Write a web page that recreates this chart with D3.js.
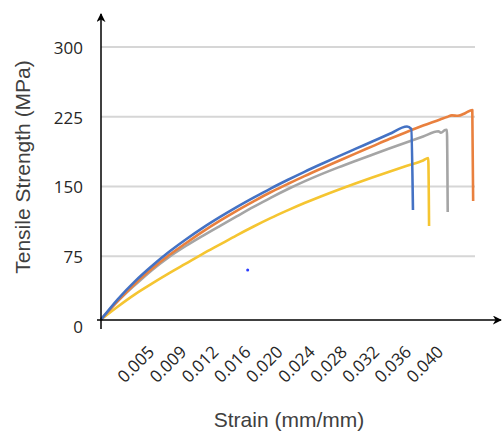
<!DOCTYPE html>
<html>
<head>
<meta charset="utf-8">
<script src="https://cdn.jsdelivr.net/npm/d3@7"></script>
<style>
  body { margin: 0; background: #fff; }
  svg { display: block; }
</style>
</head>
<body>
<svg id="drawing_region"></svg>
<script>
// strain (mm/mm) and tensile strength (MPa) for the four specimens
const blueStrain   = [0, 0.002, 0.004, 0.006, 0.008, 0.010, 0.012, 0.014, 0.016, 0.018, 0.020, 0.022, 0.024, 0.026, 0.028, 0.030, 0.032, 0.034, 0.0361, 0.0366, 0.0368];
const blueStress   = [7, 29, 48, 64.5, 79.5, 93, 105.5, 117, 127.8, 138, 147.8, 157, 165.8, 174.2, 182.4, 190.4, 198.4, 206.4, 214.5, 212, 124.7];

const orangeStrain = [0, 0.002, 0.004, 0.006, 0.008, 0.010, 0.012, 0.014, 0.016, 0.018, 0.020, 0.022, 0.024, 0.026, 0.028, 0.030, 0.032, 0.034, 0.036, 0.038, 0.040, 0.0408, 0.0414, 0.0421, 0.0430, 0.0438, 0.0439];
const orangeStress = [7, 27, 45.5, 61.5, 76, 89, 101.5, 113, 123.8, 134, 143.8, 152.6, 161.2, 169.4, 177.4, 185.4, 193.2, 201, 208.4, 215.5, 222, 224.7, 226.5, 226, 229, 232.3, 134.4];

const grayStrain   = [0, 0.002, 0.004, 0.006, 0.008, 0.010, 0.012, 0.014, 0.016, 0.018, 0.020, 0.022, 0.024, 0.026, 0.028, 0.030, 0.032, 0.034, 0.036, 0.038, 0.0398, 0.0401, 0.0406, 0.0408, 0.0409];
const grayStress   = [7, 27, 44, 60, 74, 86, 97, 107.5, 117.8, 128, 137.8, 147, 155.5, 163.3, 170.6, 177.5, 184.2, 190.8, 197.3, 203.7, 209.4, 207.8, 210.8, 211, 122.6];

const yellowStrain = [0, 0.002, 0.004, 0.006, 0.008, 0.010, 0.012, 0.014, 0.016, 0.018, 0.020, 0.022, 0.024, 0.026, 0.028, 0.030, 0.032, 0.034, 0.036, 0.038, 0.0386, 0.0387];
const yellowStress = [7, 21, 34, 45.5, 56.5, 67, 77.5, 87.5, 97.5, 107, 116, 124.3, 132.2, 139.6, 146.6, 153.3, 159.7, 165.9, 172, 178, 180.6, 107.5];

const xTickLabels = ['0.005', '0.009', '0.012', '0.016', '0.020', '0.024', '0.028', '0.032', '0.036', '0.040'];
const yTickValues = [0, 75, 150, 225, 300];

// stray blue dot in the plot area
const strayStrain = [0.0173];
const strayStress = [60.2];

const series = [
    { name: 'yellow', color: '#F5C531', x: yellowStrain, y: yellowStress },
    { name: 'gray',   color: '#A5A5A5', x: grayStrain,   y: grayStress },
    { name: 'orange', color: '#E9803E', x: orangeStrain, y: orangeStress },
    { name: 'blue',   color: '#4472C4', x: blueStrain,   y: blueStress }
];

const config = {
    width: 504,
    height: 432,
    left: 101,
    right: 474,
    zeroY: 326,
    topY: 47
};

const svg = d3.select('#drawing_region')
    .attr('width', config.width)
    .attr('height', config.height);

const xscale = d3.scaleLinear()
    .domain([0, 0.044])
    .range([config.left, config.right]);

const yscale = d3.scaleLinear()
    .domain([0, 300])
    .range([config.zeroY, config.topY]);

const xlabelScale = d3.scalePoint()
    .domain(xTickLabels)
    .range([153, 442]);

const axisY = yscale(0) - 6;   // the drawn x axis sits a little above the 0 label

// gridlines
svg.append('g')
    .selectAll('line')
    .data(yTickValues.filter(d => d > 0))
    .join('line')
    .attr('x1', config.left)
    .attr('x2', 475)
    .attr('y1', d => yscale(d))
    .attr('y2', d => yscale(d))
    .attr('stroke', '#d6d6d6')
    .attr('stroke-width', 2);

// arrow marker
svg.append('defs').append('marker')
    .attr('id', 'arrow')
    .attr('viewBox', '0 0 10 10')
    .attr('refX', 9)
    .attr('refY', 5)
    .attr('markerWidth', 9)
    .attr('markerHeight', 9)
    .attr('markerUnits', 'userSpaceOnUse')
    .attr('orient', 'auto')
    .append('path')
    .attr('d', 'M0,0 L10,5 L0,10 L3,5 Z')
    .attr('fill', '#000');

// y tick labels
const yaxis = d3.axisLeft(yscale)
    .tickValues(yTickValues)
    .tickSize(0)
    .tickPadding(0);

const yaxis_group = svg.append('g')
    .attr('transform', 'translate(83,1)')
    .call(yaxis);
yaxis_group.select('.domain').remove();
yaxis_group.selectAll('text')
    .attr('font-family', '"Open Sans", sans-serif')
    .attr('font-size', 17)
    .attr('fill', '#262626');

// x tick labels
const xaxis = d3.axisBottom(xlabelScale)
    .tickSize(0);

const xaxis_group = svg.append('g')
    .attr('transform', `translate(0, ${axisY})`)
    .call(xaxis);
xaxis_group.select('.domain').remove();
xaxis_group.selectAll('text')
    .attr('x', 0)
    .attr('y', 0)
    .attr('dy', 0)
    .attr('text-anchor', 'end')
    .attr('transform', 'translate(2,33) rotate(-45)')
    .attr('font-family', '"Open Sans", sans-serif')
    .attr('font-size', 17)
    .attr('fill', '#262626');

// series lines
const line = d3.line()
    .x(d => xscale(d[0]))
    .y(d => yscale(d[1]))
    .curve(d3.curveMonotoneX);

svg.append('g')
    .selectAll('path')
    .data(series)
    .join('path')
    .attr('d', s => line(s.x.map((v, i) => [v, s.y[i]])))
    .attr('fill', 'none')
    .attr('stroke', s => s.color)
    .attr('stroke-width', 2.6)
    .attr('stroke-linejoin', 'round');

svg.append('g')
    .selectAll('circle')
    .data(strayStrain.map((v, i) => [v, strayStress[i]]))
    .join('circle')
    .attr('cx', d => xscale(d[0]))
    .attr('cy', d => yscale(d[1]))
    .attr('r', 1.5)
    .attr('fill', '#2a3cff');

// axes with arrows
svg.append('line')
    .attr('x1', config.left)
    .attr('x2', config.left)
    .attr('y1', yscale(0) + 3)
    .attr('y2', 14)
    .attr('stroke', '#000')
    .attr('stroke-width', 1.5)
    .attr('marker-end', 'url(#arrow)');

svg.append('line')
    .attr('x1', 97)
    .attr('x2', 501)
    .attr('y1', axisY)
    .attr('y2', axisY)
    .attr('stroke', '#000')
    .attr('stroke-width', 1.5)
    .attr('marker-end', 'url(#arrow)');

// axis titles
svg.append('text')
    .attr('x', 289)
    .attr('y', 427)
    .attr('text-anchor', 'middle')
    .attr('font-family', '"Liberation Sans", Arial, sans-serif')
    .attr('font-size', 21)
    .attr('fill', '#404040')
    .text('Strain (mm/mm)');

svg.append('text')
    .attr('transform', 'translate(30, 167) rotate(-90)')
    .attr('text-anchor', 'middle')
    .attr('font-family', '"Liberation Sans", Arial, sans-serif')
    .attr('font-size', 21)
    .attr('fill', '#404040')
    .text('Tensile Strength (MPa)');
</script>
</body>
</html>
